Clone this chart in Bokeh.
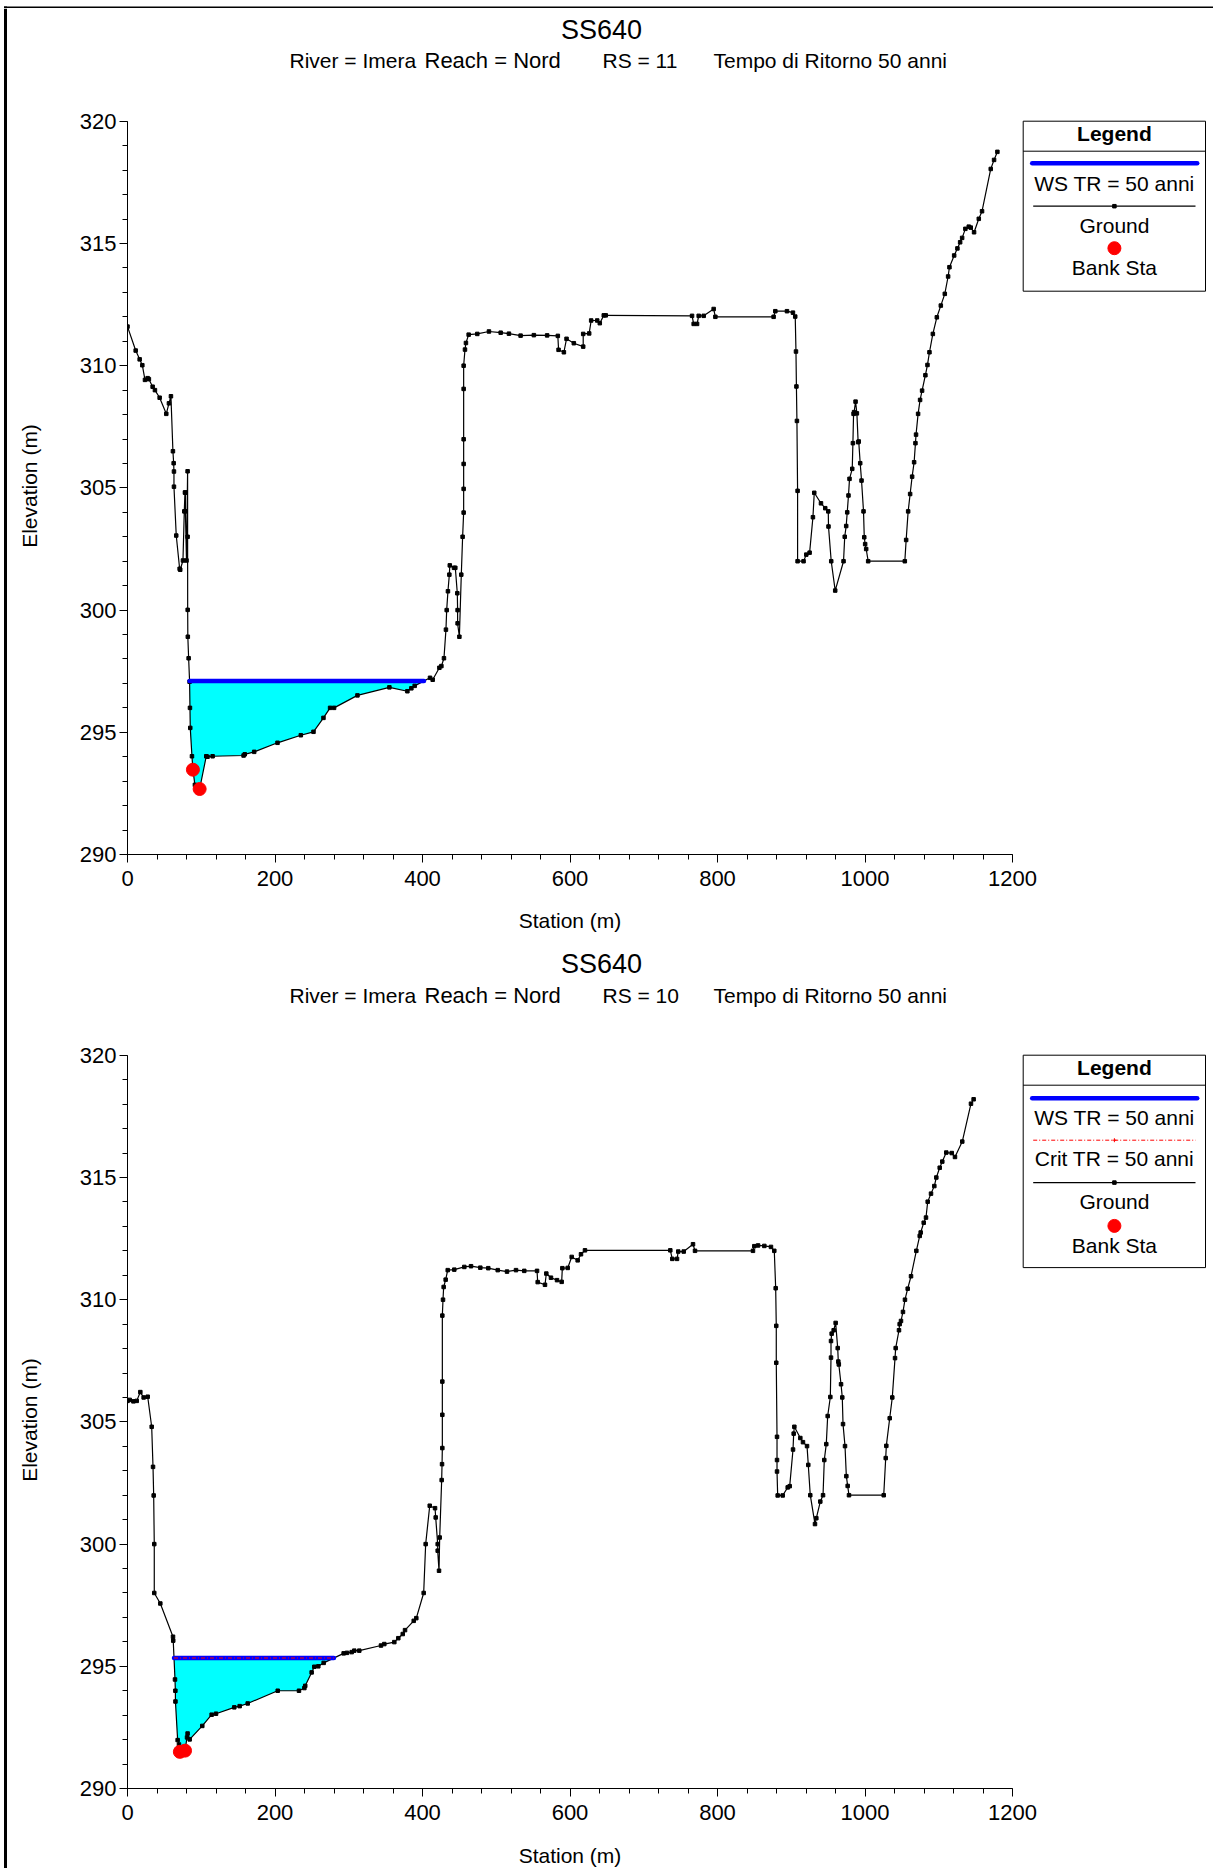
import numpy as np
from bokeh.plotting import figure
from bokeh.layouts import column, row
from bokeh.models import Label, FixedTicker, Range1d
from bokeh.embed import file_html
from bokeh.resources import INLINE

# ---------------- data ----------------
rs11_station = [0, 11.1, 16.5, 20.1, 23.7, 27.3, 29.0, 34.1, 37.2, 43.6, 52.6, 56.2, 58.9, 61.6, 62.6, 63.0, 63.0,
                66.1, 70.7, 71.5, 75.2, 77.0, 77.9, 78.5, 78.5, 80.0, 81.5, 81.5, 81.6, 81.8, 82.9, 84.2, 84.7, 85.1,
                87.4, 88.7, 91.4, 97.8, 106.8, 108.5, 115.4, 157.4, 159.0, 171.8, 203.4, 235.0, 252.2, 265.7, 274.7,
                280.1, 311.8, 355.1, 379.5, 384.9, 389.4, 410.2, 413.8, 422.9, 425.6, 429.1, 431.8, 432.8, 434.5,
                436.4, 437.0, 442.7, 444.5, 447.2, 447.6, 447.6, 450.0, 452.6, 454.4, 455.8, 455.8, 455.8, 455.8,
                455.8, 455.8, 457.6, 458.9, 462.6, 474.3, 490.1, 506.0, 517.2, 533.0, 551.0, 569.0, 583.5, 584.5,
                591.7, 595.3, 605.2, 617.9, 617.9, 626.0, 628.7, 636.9, 640.4, 645.8, 648.5, 765.5, 767.7, 772.3,
                774.5, 781.3, 794.8, 797.1, 876.1, 878.4, 894.2, 902.3, 905.4, 906.4, 907.0, 907.7, 908.6, 908.6,
                916.7, 920.4, 924.9, 929.4, 931.2, 940.3, 946.1, 950.2, 950.5, 954.2, 959.6, 970.9, 972.5, 974.5,
                975.9, 977.6, 979.0, 982.7, 983.6, 984.5, 985.2, 987.2, 989.0, 990.7, 991.5, 993.5, 995.3, 998.0,
                999.0, 1000.2, 1001.6, 1004.3, 1054.0, 1055.8, 1058.5, 1061.2, 1063.9, 1066.6, 1068.4, 1069.2,
                1072.0, 1074.7, 1077.4, 1081.9, 1084.7, 1087.4, 1092.0, 1097.4, 1102.8, 1108.2, 1112.7, 1114.5,
                1120.9, 1125.3, 1129.0, 1131.7, 1136.1, 1140.7, 1143.4, 1147.9, 1154.3, 1158.7, 1170.5, 1175.0,
                1179.5]
rs11_elev = [311.60, 310.62, 310.26, 310.02, 309.42, 309.49, 309.45, 309.14, 309.00, 308.69, 308.03, 308.46,
             308.75, 306.50, 306.01, 305.67, 305.05, 303.05, 301.69, 301.65, 302.03, 304.04, 304.81, 304.81,
             304.04, 302.03, 305.68, 303.00, 300.01, 298.91, 298.03, 297.07, 296.00, 295.18, 294.02, 293.47,
             292.85, 292.68, 294.02, 294.00, 294.02, 294.05, 294.10, 294.20, 294.57, 294.88, 295.02, 295.59,
             296.00, 296.00, 296.51, 296.84, 296.68, 296.80, 296.90, 297.23, 297.15, 297.64, 297.71, 298.03,
             299.20, 300.00, 300.77, 301.45, 301.83, 301.73, 301.73, 300.69, 300.00, 299.46, 298.91, 301.45,
             303.00, 303.99, 304.96, 305.98, 306.99, 309.05, 310.00, 310.66, 310.93, 311.27, 311.30, 311.40,
             311.35, 311.31, 311.23, 311.25, 311.24, 311.22, 310.65, 310.55, 311.10, 310.92, 310.78, 311.30,
             311.32, 311.85, 311.85, 311.74, 312.06, 312.06, 312.04, 311.71, 311.71, 312.04, 312.04, 312.32,
             312.00, 312.00, 312.23, 312.23, 312.17, 312.01, 310.58, 309.15, 307.74, 304.88, 302.00, 302.00,
             302.27, 302.35, 303.80, 304.80, 304.37, 304.17, 304.04, 303.42, 302.00, 300.80, 302.00, 303.00,
             303.44, 304.00, 304.69, 305.37, 305.78, 306.83, 308.03, 308.10, 308.53, 308.05, 306.87, 306.90,
             306.01, 305.30, 304.04, 302.98, 302.70, 302.50, 302.00, 302.00, 302.87, 304.04, 304.75, 305.46,
             306.05, 306.83, 307.18, 308.03, 308.60, 308.98, 309.61, 310.03, 310.55, 311.30, 311.98, 312.46,
             312.94, 313.65, 314.03, 314.51, 314.80, 315.05, 315.23, 315.60, 315.69, 315.65, 315.46, 316.01,
             316.32, 318.05, 318.42, 318.75]
rs11_ws = 297.10
rs11_bank_station = [88.7, 97.8]
rs11_bank_elev = [293.47, 292.68]

rs10_station = [0, 3.0, 8.0, 12.5, 17.4, 21.9, 27.4, 32.8, 34.6, 35.5, 36.3, 36.3, 44.5, 61.7, 62.0, 64.4, 64.9,
                65.0, 68.0, 69.8, 71.0, 78.0, 80.7, 81.5, 84.3, 101.4, 114.1, 120.0, 144.8, 152.1, 163.0, 203.7,
                232.5, 239.8, 241.0, 249.7, 253.3, 258.7, 266.0, 293.1, 297.6, 304.0, 307.5, 314.3, 343.7, 348.2,
                361.8, 367.2, 373.2, 376.3, 388.1, 391.6, 401.6, 404.3, 409.8, 417.0, 417.9, 420.6, 420.6, 422.4,
                423.3, 426.0, 426.5, 426.9, 426.9, 426.9, 426.9, 427.8, 428.7, 431.4, 434.2, 443.1, 456.7, 465.8,
                478.4, 489.2, 502.0, 514.6, 526.8, 538.0, 555.3, 556.2, 566.1, 567.9, 574.2, 582.4, 588.7, 589.6,
                596.9, 602.3, 610.4, 614.9, 620.3, 736.0, 738.7, 745.1, 746.8, 754.2, 766.8, 769.5, 848.1, 849.9,
                855.0, 863.5, 872.5, 877.0, 878.9, 879.7, 879.7, 880.7, 880.7, 880.7, 881.6, 888.4, 895.2, 897.9,
                902.4, 903.3, 904.2, 912.3, 915.9, 921.4, 923.1, 925.8, 932.2, 934.0, 939.4, 943.1, 944.8, 947.5,
                949.4, 953.0, 953.9, 953.9, 954.8, 957.5, 960.2, 963.0, 963.8, 964.5, 967.5, 969.2, 970.2, 972.9,
                974.7, 976.5, 978.3, 1025.4, 1028.1, 1028.9, 1033.5, 1037.0, 1040.7, 1041.6, 1046.1, 1047.0,
                1048.8, 1051.5, 1054.2, 1057.9, 1062.4, 1069.6, 1074.2, 1075.5, 1079.6, 1082.7, 1085.0, 1089.5,
                1094.0, 1096.7, 1101.3, 1104.8, 1110.2, 1117.6, 1122.0, 1131.9, 1143.7, 1147.3]
rs10_elev = [305.86, 305.90, 305.84, 305.86, 306.22, 306.00, 306.03, 304.80, 303.16, 301.99, 300.00, 298.00,
             297.57, 296.21, 296.05, 294.46, 294.00, 293.56, 291.98, 291.80, 291.50, 291.55, 292.09, 292.25,
             292.01, 292.56, 293.02, 293.06, 293.32, 293.37, 293.48, 294.00, 294.00, 294.11, 294.20, 294.75,
             294.98, 295.00, 295.14, 295.53, 295.55, 295.58, 295.64, 295.64, 295.85, 295.91, 295.99, 296.15,
             296.32, 296.48, 296.86, 296.97, 298.00, 300.00, 301.57, 301.47, 301.09, 300.00, 299.73, 298.91,
             300.27, 302.62, 303.27, 303.93, 305.29, 306.65, 309.35, 310.00, 310.52, 310.82, 311.21, 311.23,
             311.34, 311.37, 311.31, 311.29, 311.21, 311.15, 311.21, 311.18, 311.18, 310.72, 310.61, 311.07,
             310.90, 310.80, 310.73, 311.29, 311.30, 311.75, 311.61, 311.86, 312.02, 312.02, 311.67, 311.67,
             311.97, 311.97, 312.27, 312.00, 312.00, 312.19, 312.22, 312.20, 312.16, 312.00, 310.47, 308.93,
             307.42, 304.39, 303.44, 302.97, 301.99, 301.99, 302.32, 302.37, 303.87, 304.52, 304.80, 304.34,
             304.17, 304.01, 303.24, 302.00, 300.82, 301.06, 301.74, 302.00, 303.44, 304.09, 305.24, 306.02,
             307.63, 308.31, 308.61, 308.75, 309.05, 308.02, 307.47, 307.35, 306.54, 306.00, 304.91, 304.01,
             302.78, 302.38, 302.00, 302.00, 303.52, 304.02, 305.15, 306.00, 307.61, 308.02, 308.75, 309.00,
             309.13, 309.50, 310.00, 310.45, 310.96, 312.00, 312.61, 312.75, 313.15, 313.36, 314.01, 314.34,
             314.65, 315.00, 315.40, 315.65, 316.02, 316.00, 315.84, 316.47, 318.02, 318.20]
rs10_ws = 295.34
rs10_crit = 295.34
rs10_bank_station = [71.0, 78.0]
rs10_bank_elev = [291.50, 291.55]

x_major = list(range(0, 1201, 200))
x_minor = list(range(0, 1201, 40))
y_major = list(range(290, 321, 5))
y_minor = list(range(290, 321, 1))

title_text = "SS640"
river_text = "River = Imera"
reach_text = "Reach = Nord"
tempo_text = "Tempo di Ritorno 50 anni"
x_label = "Station (m)"
y_label = "Elevation (m)"
FONT = "Liberation Sans"

# ---------------- layout (page pixels) ----------------
PAGE_W = 1213
BAR = 8                         # outer frame bars (top and left)
COL_W = PAGE_W - BAR            # width of every stacked figure
FRAME_LEFT = 127                # page x of station 0
FRAME_RIGHT = 1212
ML = FRAME_LEFT - BAR
MR = PAGE_W - FRAME_RIGHT
SX = 885.0 / 1200.0             # px per metre (x)
SY = 733.2 / 30.0               # px per metre (y)
FRAME_W = COL_W - ML - MR
FRAME_H = 737
X_END = FRAME_W / SX
Y_END = 290 + FRAME_H / SY
PLOT_MT, PLOT_MB = 17, 46
PLOT_H = PLOT_MT + FRAME_H + PLOT_MB
H_A, H_B, H_C = 100 - BAR, 134, 34     # text strips


def wet_area(st, el, ws):
    st = np.asarray(st, float)
    el = np.asarray(el, float)
    i = int(np.argmin(el))
    lo = i
    while lo > 0 and el[lo - 1] < ws:
        lo -= 1
    hi = i
    while hi < len(el) - 1 and el[hi + 1] < ws:
        hi += 1

    def cross(a, b):
        t = (ws - el[a]) / (el[b] - el[a])
        return st[a] + t * (st[b] - st[a])

    xl = cross(lo - 1, lo)
    xr = cross(hi + 1, hi)
    xs = [xl] + list(st[lo:hi + 1]) + [xr]
    ys = [ws] + list(el[lo:hi + 1]) + [ws]
    return xs, ys, xl, xr


def blank(f):
    f.outline_line_color = None
    f.grid.visible = False
    f.background_fill_color = "white"
    f.border_fill_color = "white"
    return f


def text_fig(fig_top, h):
    # frame aligned with the plot frames: x data == page x, y data == page y
    f = figure(width=COL_W, height=h, x_range=Range1d(FRAME_LEFT, FRAME_RIGHT),
               y_range=Range1d(fig_top + h, fig_top),
               output_backend="svg", toolbar_location=None, x_axis_type=None, y_axis_type=None,
               min_border_left=ML, min_border_right=MR, min_border_top=0, min_border_bottom=0)
    return blank(f)


def put(f, text, px, py, size="21px", style="normal", align="center"):
    f.add_layout(Label(x=px, y=py, text=text, text_font=FONT, text_font_size=size,
                       text_font_style=style, text_align=align, text_baseline="middle",
                       text_color="black"))


def titles(f, rs, y_title, y_sub):
    put(f, title_text, 601, y_title, size="27px")
    put(f, river_text, 289, y_sub, align="left")
    put(f, reach_text, 424, y_sub, align="left", size="22px")
    put(f, "RS = %d" % rs, 602, y_sub, align="left")
    put(f, tempo_text, 713, y_sub, align="left")


def make_fig(fig_top, station, elev, ws, bank_x, bank_y, crit=None):
    fb = fig_top + PLOT_MT + FRAME_H  # frame bottom in page px

    def tx(px):
        return (px - FRAME_LEFT) / SX

    def ty(py):
        return 290 + (fb - py) / SY

    p = figure(width=COL_W, height=PLOT_H, x_range=Range1d(0, X_END), y_range=Range1d(290, Y_END),
               output_backend="svg", toolbar_location=None,
               min_border_left=ML, min_border_right=MR, min_border_top=PLOT_MT, min_border_bottom=PLOT_MB)
    blank(p)

    p.xaxis.ticker = FixedTicker(ticks=x_major, minor_ticks=x_minor)
    p.yaxis.ticker = FixedTicker(ticks=y_major, minor_ticks=y_minor)
    p.xaxis.bounds = (0, 1200)
    p.yaxis.bounds = (290, 320)
    for ax in (p.xaxis[0], p.yaxis[0]):
        ax.axis_line_color = "black"
        ax.axis_line_width = 1
        ax.major_tick_line_color = "black"
        ax.minor_tick_line_color = "black"
        ax.major_tick_in = 0
        ax.major_tick_out = 8
        ax.minor_tick_in = 0
        ax.minor_tick_out = 5
        ax.major_label_text_font = FONT
        ax.major_label_text_font_size = "22px"
        ax.major_label_text_color = "black"
    p.xaxis.major_label_standoff = 8
    p.yaxis.major_label_standoff = 3
    p.yaxis.axis_label = y_label
    p.yaxis.axis_label_text_font = FONT
    p.yaxis.axis_label_text_font_size = "21px"
    p.yaxis.axis_label_text_font_style = "normal"
    p.yaxis.axis_label_text_color = "black"
    p.yaxis.axis_label_standoff = 36

    # wetted area
    wx, wy, xl, xr = wet_area(station, elev, ws)
    p.patch(wx, wy, fill_color="#00FFFF", line_color=None)

    # ground
    p.line(station, elev, line_color="black", line_width=1.2)
    p.scatter(station, elev, marker="square", size=3.5, color="black")

    # water surface
    p.line([xl, xr], [ws, ws], line_color="#0000FF", line_width=4.5, line_cap="round")
    if crit is not None:
        _, _, cl, cr = wet_area(station, elev, crit)
        p.line([cl, cr], [crit, crit], line_color="#FF0000", line_width=1, line_dash="4 2 1 2")

    # bank stations
    p.scatter(bank_x, bank_y, marker="circle", size=13, color="#FF0000")

    # ---- legend (inside the frame) ----
    def lab(text, px, py, size="21px", style="normal"):
        p.add_layout(Label(x=tx(px), y=ty(py), text=text, text_font=FONT, text_font_size=size,
                           text_font_style=style, text_align="center", text_baseline="middle",
                           text_color="black"))

    top = fb - 733.2 - 0.1  # legend box top (page px), level with 320
    cx = 1113.9
    if crit is None:
        rows = dict(ws=42, ws_t=61.8, gr=85, gr_t=104, bk=127, bk_t=146, bottom=170)
    else:
        rows = dict(ws=43, ws_t=61.8, cr=85, cr_t=103.5, gr=127.4, gr_t=146.7, bk=170.7, bk_t=190.5,
                    bottom=212.4)
    p.quad(left=[tx(1022.7)], right=[tx(1205)], top=[ty(top)], bottom=[ty(top + rows["bottom"])],
           fill_color="white", line_color="black", line_width=1)
    p.line([tx(1022.7), tx(1205)], [ty(top + 30), ty(top + 30)], line_color="black", line_width=1)
    lab("Legend", cx, top + 11.8, size="21px", style="bold")
    p.line([tx(1031.7), tx(1196.7)], [ty(top + rows["ws"])] * 2, line_color="#0000FF", line_width=4.5,
           line_cap="round")
    lab("WS TR = 50 anni", cx, top + rows["ws_t"])
    if crit is not None:
        p.line([tx(1032.7), tx(1195)], [ty(top + rows["cr"])] * 2, line_color="#FF0000", line_width=1,
               line_dash="4 2 1 2")
        p.scatter([tx(cx)], [ty(top + rows["cr"])], marker="cross", size=4, color="#FF0000")
        lab("Crit TR = 50 anni", cx, top + rows["cr_t"])
    p.line([tx(1032.7), tx(1195)], [ty(top + rows["gr"])] * 2, line_color="black", line_width=1.2)
    p.scatter([tx(cx)], [ty(top + rows["gr"])], marker="square", size=3.5, color="black")
    lab("Ground", cx, top + rows["gr_t"])
    p.scatter([tx(cx)], [ty(top + rows["bk"])], marker="circle", size=13, color="#FF0000")
    lab("Bank Sta", cx, top + rows["bk_t"])
    return p


# stacked pieces (page y of each top edge)
yA = BAR
y1 = yA + H_A
yB = y1 + PLOT_H
y2 = yB + H_B
yC = y2 + PLOT_H
TOTAL_H = yC + H_C

figA = text_fig(yA, H_A)
titles(figA, 11, 29, 60)

p1 = make_fig(y1, rs11_station, rs11_elev, rs11_ws, rs11_bank_station, rs11_bank_elev)

figB = text_fig(yB, H_B)
put(figB, x_label, 569.5, 920)
titles(figB, 10, 963, 995)

p2 = make_fig(y2, rs10_station, rs10_elev, rs10_ws, rs10_bank_station, rs10_bank_elev, crit=rs10_crit)

figC = text_fig(yC, H_C)
put(figC, x_label, 569.5, 1855)

# outer frame lines (top and left)
topbar = blank(figure(width=PAGE_W, height=BAR, x_range=Range1d(0, PAGE_W), y_range=Range1d(BAR, 0),
                      output_backend="svg", toolbar_location=None, x_axis_type=None, y_axis_type=None,
                      min_border_left=0, min_border_right=0, min_border_top=0, min_border_bottom=0))
topbar.quad(left=[3.5], right=[PAGE_W], top=[2], bottom=[6.5], fill_color="black", line_color=None)
topbar.quad(left=[3.5], right=[6.5], top=[2], bottom=[BAR], fill_color="black", line_color=None)

leftbar = blank(figure(width=BAR, height=TOTAL_H - BAR, x_range=Range1d(0, BAR), y_range=Range1d(TOTAL_H, BAR),
                       output_backend="svg", toolbar_location=None, x_axis_type=None, y_axis_type=None,
                       min_border_left=0, min_border_right=0, min_border_top=0, min_border_bottom=0))
leftbar.quad(left=[3.5], right=[6.5], top=[BAR], bottom=[TOTAL_H], fill_color="black", line_color=None)

layout = column(topbar, row(leftbar, column(figA, p1, figB, p2, figC, spacing=0), spacing=0), spacing=0)
open("out.html", "w").write(file_html(layout, INLINE))
